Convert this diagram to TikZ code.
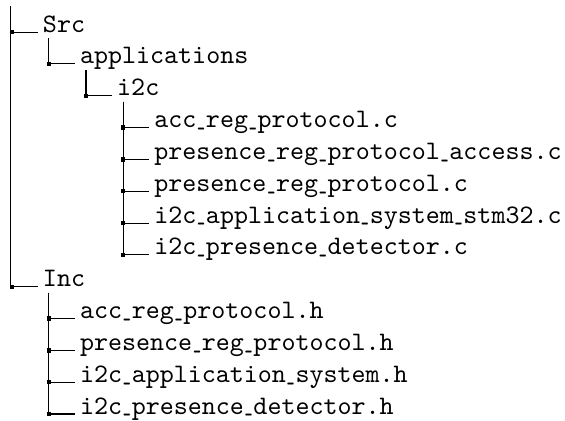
\documentclass[tikz,border=0pt]{standalone}
\usepackage{fontspec}
\usepackage{graphicx}
\newcommand{\us}{\kern.03em\raisebox{.08em}{\scalebox{0.57}[1]{\_}}\kern.03em}

\begin{document}
\begin{tikzpicture}[x=1pt, y=1pt,
					file/.style={anchor=base west, inner sep=0pt, inner xsep=1.8pt, font=\ttfamily},
					dtdot/.style={rectangle, fill=black, inner sep=0pt, minimum size=1.6pt},
					dtline/.style={draw, line width=0.4pt}]
		\useasboundingbox (0,0) rectangle (211.6,-157.3);
		\node[inner sep=0pt] (root) at (0.3,-0.1) {};
		% name / level / row / text
		\foreach \name/\lvl/\row/\txt in {
				src/1/1/Src,
				apps/2/2/applications,
				i2cdir/3/3/i2c,
				accc/4/4/{acc\us reg\us protocol.c},
				presacc/4/5/{presence\us reg\us protocol\us access.c},
				presc/4/6/{presence\us reg\us protocol.c},
				sysc/4/7/{i2c\us application\us system\us stm32.c},
				detc/4/8/{i2c\us presence\us detector.c},
				inc/1/9/Inc,
				acch/2/10/{acc\us reg\us protocol.h},
				presh/2/11/{presence\us reg\us protocol.h},
				sysh/2/12/{i2c\us application\us system.h},
				deth/2/13/{i2c\us presence\us detector.h}}
			\node[file] (\name) at ({14.1+13.9*(\lvl-1)},{-0.1-11.92*\row}) {\txt};
		% parent / child
		\foreach \parent/\child in {root/src, root/inc, src/apps, apps/i2cdir,
				i2cdir/accc, i2cdir/presacc, i2cdir/presc, i2cdir/sysc, i2cdir/detc,
				inc/acch, inc/presh, inc/sysh, inc/deth} {
			\draw[dtline] ([shift={(4.2pt,-2.3pt)}]\parent.base west) |- (\child.base west);
			\node[dtdot] at ([xshift=-9.7pt]\child.base west) {};
		}
	\end{tikzpicture}
\end{document}
